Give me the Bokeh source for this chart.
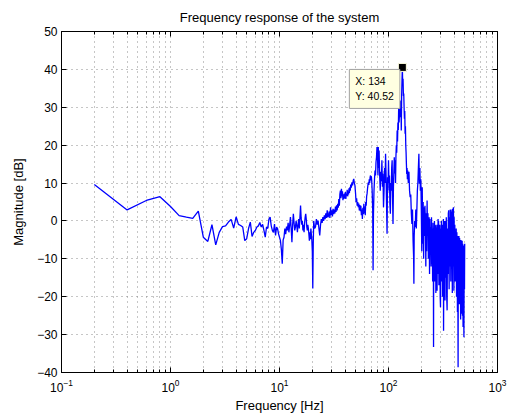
from bokeh.plotting import figure
from bokeh.models import LogAxis, LinearAxis, Label, FixedTicker
from bokeh.embed import file_html
from bokeh.resources import INLINE

FONT = "Liberation Sans"

# ---- data ----
f_low = [0.2, 0.4, 0.6, 0.8, 1.0, 1.2, 1.4, 1.6, 1.8, 2.0,
         2.2, 2.4, 2.6, 2.8, 3.0, 3.2, 3.4, 3.6, 3.8, 4.0,
         4.2, 4.4, 4.6, 4.8, 5.0, 5.2, 5.4, 5.6, 5.8, 6.0,
         6.2, 6.4, 6.6, 6.8, 7.0, 7.2, 7.4, 7.6, 7.8, 8.0,
         8.2, 8.4, 8.6, 8.8, 9.0, 9.2, 9.4, 9.6, 9.8, 10.0]
db_low = [9.6, 2.9, 5.4, 6.4, 3.8, 1.4, 1.0, 0.7, 2.6, -4.3,
          -5.4, -1.0, -6.3, -3.0, -1.5, -1.3, -0.3, 0.4, -1.9, 1.1,
          -0.9, -1.2, -1.6, -5.2, -4.7, -2.0, -0.3, -4.1, -3.0, -2.5,
          -1.6, -1.3, -0.4, -1.6, -0.9, -2.5, -4.3, -1.6, -2.0, 0.5,
          1.0, -1.3, -2.5, -3.0, -0.8, -3.8, -1.6, -2.0, -3.4, -4.3]

f_b = [10.2, 10.4, 10.6, 10.8, 11.0, 11.2, 11.4, 11.6, 11.8, 12.0,
       12.2, 12.4, 12.6, 12.8, 13.0, 13.2, 13.4, 13.6, 13.8, 14.0,
       14.2, 14.4, 14.6, 14.8, 15.0, 15.2, 15.4, 15.6, 15.8, 16.0,
       16.2, 16.4, 16.6, 16.8, 17.0, 17.2, 17.4, 17.6, 17.8, 18.0,
       18.2, 18.4, 18.6, 18.8, 19.0, 19.2, 19.4, 19.6, 19.8, 20.0,
       20.2, 20.4, 20.6]
db_b = [-5.2, -7.5, -11.3, -5.0, -4.3, -2.0, -3.5, -1.5, -2.5, -0.5,
        -3.0, -1.0, 1.0, -2.0, -5.6, -1.0, 1.9, -0.5, -2.5, -1.6,
        0.0, -1.2, -3.0, -1.0, 0.5, -2.0, 1.0, 4.1, 0.8, -1.0,
        0.0, -2.5, -1.0, -3.0, -0.5, 1.0, 1.9, 0.5, -1.6, -2.5,
        -1.0, -2.0, -3.5, -5.2, -3.0, -4.8, -2.0, -3.5, -5.0, -8.0,
        -17.8, -6.0, 0.0]

f_c = [21.0, 21.4, 21.8, 22.2, 22.6, 23.0, 23.4, 23.8, 24.2, 24.6,
       25.0, 25.4, 25.8, 26.2, 26.6, 27.0, 27.4, 27.8, 28.2, 28.6,
       29.0, 29.4, 29.8, 30.2, 30.6, 31.0, 31.4, 31.8, 32.2, 32.6,
       33.0, 33.4, 33.8, 34.2, 34.6, 35.0, 35.4, 35.8, 36.2, 36.6,
       37.0, 37.4, 37.8, 38.2, 38.6, 39.0, 39.4, 39.8, 40.2, 40.6,
       41.0, 41.4, 41.8, 42.2, 42.6, 43.0, 43.4, 43.8, 44.2, 44.6,
       45.0, 45.6, 46.2, 46.8, 47.4, 48.0, 48.6, 49.2, 49.8, 50.4,
       51.0, 51.6, 52.2, 52.8, 53.4, 54.0, 54.6, 55.2, 55.8, 56.4,
       57.0, 57.6, 58.2, 58.8, 59.4, 60.0, 60.6, 61.2, 61.8, 62.4,
       63.0, 63.6, 64.2, 64.8, 65.4, 66.0, 66.6, 67.2, 67.8, 68.4,
       69.0, 69.6, 70.2, 70.8, 71.6, 72.2, 72.8, 73.6, 74.4, 75.2,
       76.0, 76.8, 77.6, 78.4, 79.2, 80.0]
db_c = [-2.0, -1.6, 0.5, -1.0, 0.1, -2.0, -3.8, -1.0, 0.5, -0.5,
        1.0, 0.0, 1.5, 0.5, 2.0, 0.8, 2.8, 1.0, 1.4, 2.5,
        0.8, 3.6, 1.5, 2.8, 1.2, 3.2, 1.8, 3.0, 2.0, 3.8,
        2.4, 4.1, 2.8, 4.5, 3.5, 5.8, 4.0, 7.0, 8.0, 6.0,
        8.5, 6.5, 7.8, 5.5, 7.0, 5.8, 7.2, 6.0, 7.6, 5.8,
        7.0, 6.7, 8.2, 6.5, 7.8, 7.0, 8.6, 7.4, 8.9, 8.0,
        9.6, 8.8, 10.2, 9.4, 10.6, 11.1, 10.0, 9.4, 7.5, 5.0,
        6.0, 4.0, 5.0, 3.6, 4.6, 2.8, 4.2, 2.6, 4.0, 1.5,
        3.0, 0.5, 3.5, 1.8, 4.5, 2.0, 3.8, 1.5, 5.0, 4.0,
        6.5, 7.2, 8.5, 9.5, 10.2, 9.5, 11.0, 10.0, 11.5, 12.0,
        10.7, 11.8, 10.5, 8.0, 3.0, -13.0, 2.0, 8.0, 11.0, 13.3,
        12.0, 15.5, 16.8, 19.5, 18.0, 12.0]

f_d = [80.6, 81.4, 82.0, 83.0, 84.0, 85.0, 86.0, 87.0, 88.0, 89.0,
       90.0, 91.0, 92.0, 93.0, 94.0, 95.0, 96.0, 97.0, 98.0, 99.0,
       100.0, 101.0, 102.0, 103.0, 104.0, 105.0, 106.0, 107.0, 108.0, 109.0,
       110.0, 111.0, 112.0, 113.0, 114.0, 115.0, 116.0, 117.0, 118.0, 119.0,
       120.0, 121.0, 122.0, 123.0, 124.0, 125.0, 126.0, 127.0, 128.0, 129.0,
       130.0, 131.0, 132.0, 133.0, 134.0, 135.0, 136.0, 137.0, 138.0, 139.0,
       140.0, 141.0, 142.0, 143.0, 144.0, 145.0, 146.0, 147.0, 148.0, 149.0,
       150.0, 152.0, 154.0, 156.0, 158.0, 160.0, 162.0, 164.0, 166.0, 168.0,
       170.0, 171.0, 172.0, 174.0, 176.0, 178.0, 180.0, 182.0, 184.0, 186.0,
       188.0, 190.0, 192.0, 194.0, 196.0, 198.0, 200.0]
db_d = [19.5, 14.0, 18.6, 12.0, 8.0, 13.0, 10.5, 16.0, 9.0, 12.5,
        3.6, 8.0, 14.0, 10.0, 17.7, 12.0, 4.0, -3.4, 11.5, 8.0,
        16.0, 10.0, 12.0, 4.5, 1.9, 10.0, 8.0, 14.0, 16.0, 6.0,
        -0.8, 9.0, 13.0, 16.8, 12.5, 16.0, 10.0, 17.0, 20.0, 18.0,
        23.9, 21.0, 26.0, 24.0, 30.0, 26.0, 28.0, 27.4, 31.8, 29.0,
        31.5, 23.9, 33.0, 37.0, 40.52, 36.0, 37.5, 33.0, 33.6, 30.0,
        27.0, 29.0, 23.0, 25.0, 20.0, 18.0, 15.0, 12.4, 14.0, 11.0,
        13.3, 10.0, 13.0, 8.0, 6.3, 7.0, 2.0, -0.8, 3.0, -5.0,
        -9.6, -16.6, -4.0, 0.0, -1.6, 3.0, -2.0, 2.8, 8.0, 10.0,
        14.0, 17.7, 9.8, 14.0, 8.0, 11.0, 3.0]

f_e = [202, 204, 206, 208, 210, 212, 214, 216, 218, 220,
       222, 224, 226, 228, 230, 232, 234, 236, 238, 240,
       242, 244, 246, 248, 250, 252, 254, 256, 258, 259,
       260, 262, 264, 266, 268, 270, 272, 274, 276, 278,
       279, 281, 283, 285, 287, 288, 290, 292, 294, 296,
       298, 300, 302, 304, 306, 308, 310, 311, 313, 315,
       317, 319, 320, 322, 324, 326, 328, 330, 333, 336,
       339, 342, 345, 348, 351, 354, 357, 360, 363, 366,
       369, 370, 373, 376, 379, 382, 385, 388, 391, 394,
       396, 398, 400, 403, 406, 409, 412, 415, 418, 421,
       424, 427, 429, 431, 433, 435, 437, 440, 443, 446,
       449, 450, 453, 456, 459, 462, 465, 468, 471, 474,
       477, 480, 483, 486, 489, 492, 495, 498, 500]
db_e = [-8.0, 8.9, -6.0, 5.0, -10.0, 3.6, -4.0, 4.0, 0.0, -12.0,
        2.0, -8.0, 5.4, -3.0, 2.0, -10.0, -6.0, 1.0, -14.0, 0.5,
        -9.0, -1.6, -12.0, 1.0, -11.3, -2.0, -16.0, -0.5, -8.0, -33.3,
        -2.0, -12.0, 0.0, -16.0, -1.0, -1.6, -19.0, -2.0, -10.0, -1.0,
        -18.4, -4.0, -14.0, 0.5, -8.0, 0.0, -17.0, -3.0, -12.0, -1.0,
        -20.0, -22.8, -2.0, -14.0, 0.0, -16.0, -1.0, -1.6, -20.0, -3.0,
        -12.0, 0.5, -29.0, -6.0, -2.0, -18.0, 0.0, -21.0, 0.0, -15.0,
        1.0, -20.0, -23.6, -2.0, -14.0, 2.0, 2.8, -18.0, 1.0, -12.0,
        3.0, 1.9, -16.0, 2.5, -10.0, 3.0, -19.0, 3.2, -12.0, 3.6,
        -2.5, -18.4, 1.0, -14.0, -1.0, -16.0, -3.4, -10.0, -2.0, -20.0,
        -3.0, -12.2, -24.0, -4.0, -20.0, -38.6, -5.0, -18.0, -4.0, -22.0,
        -4.5, -6.0, -20.0, -5.0, -26.0, -5.0, -24.5, -6.0, -22.0, -5.2,
        -25.0, -6.0, -28.0, -6.5, -22.0, -30.7, -7.0, -18.0, -6.0]

peak_f = 134
peak_db = 40.52

x_ticks = [0.1, 1, 10, 100, 1000]
x_minor = [m * t for t in [0.1, 1, 10, 100] for m in range(2, 10)]
y_ticks = [-40, -30, -20, -10, 0, 10, 20, 30, 40, 50]

freq = f_low + f_b + f_c + f_d + f_e
mag = db_low + db_b + db_c + db_d + db_e

# ---- figure ----
p = figure(width=509, height=415, x_axis_type="log",
           x_range=(0.1, 1000), y_range=(-40, 50),
           output_backend="svg", toolbar_location=None,
           title="Frequency response of the system",
           min_border_left=61, min_border_right=12,
           min_border_top=31, min_border_bottom=43)
p.background_fill_color = "white"
p.border_fill_color = "white"
p.outline_line_color = "black"

p.title.text_font = FONT
p.title.text_font_size = "13px"
p.title.text_font_style = "normal"
p.title.text_color = "black"
p.title.align = "center"
p.title.standoff = 13

xt = FixedTicker(ticks=x_ticks, minor_ticks=x_minor)
yt = FixedTicker(ticks=y_ticks)
ov = {float(t): str(t).replace("-", "\u2212") for t in y_ticks}

p.xaxis.ticker = xt
p.xaxis.axis_label = "Frequency [Hz]"
p.yaxis.ticker = yt
p.yaxis.major_label_overrides = ov
p.yaxis.axis_label = "Magnitude [dB]"

for ax in [p.xaxis[0], p.yaxis[0]]:
    ax.axis_line_color = "black"
    ax.major_tick_line_color = "black"
    ax.minor_tick_line_color = "black"
    ax.major_tick_in = 5
    ax.major_tick_out = 0
    ax.minor_tick_in = 3
    ax.minor_tick_out = 0
    ax.major_label_text_font = FONT
    ax.major_label_text_font_size = "12px"
    ax.major_label_text_color = "black"
    ax.axis_label_text_font = FONT
    ax.axis_label_text_font_size = "13px"
    ax.axis_label_text_font_style = "normal"
    ax.axis_label_text_color = "black"
p.yaxis.minor_tick_line_color = None
p.xaxis.major_label_standoff = 6
p.yaxis.major_label_standoff = 4
p.xaxis.axis_label_standoff = 3
p.yaxis.axis_label_standoff = 8

top = LogAxis(ticker=xt, major_label_text_font_size="1px", major_label_text_color=None,
              major_label_standoff=0,
              major_tick_in=5, major_tick_out=0, minor_tick_in=3, minor_tick_out=0,
              axis_line_color="black")
right = LinearAxis(ticker=yt, major_label_text_font_size="1px", major_label_text_color=None,
                   major_label_standoff=0,
                   major_tick_in=5, major_tick_out=0, minor_tick_line_color=None,
                   axis_line_color="black")
p.add_layout(top, "above")
p.add_layout(right, "right")

grid_col = "#8c8c8c"
p.xgrid.ticker = xt
p.xgrid.grid_line_color = grid_col
p.xgrid.grid_line_dash = "1 4"
p.xgrid.minor_grid_line_color = grid_col
p.xgrid.minor_grid_line_dash = "1 4"
p.ygrid.ticker = yt
p.ygrid.grid_line_color = grid_col
p.ygrid.grid_line_dash = "1 4"

p.line(freq, mag, line_color="#0000FF", line_width=1.3)

tip = Label(x=peak_f, y=peak_db, x_units="data", y_units="data",
            text=f"X: {peak_f:g}\nY: {peak_db:.2f}",
            x_offset=-53, y_offset=-2, text_align="left", text_baseline="top",
            text_font=FONT, text_font_size="10.5px", text_color="black",
            text_line_height=1.25,
            background_fill_color="#FFFFE1", border_line_color="#A0A0A0",
            padding=6)
p.add_layout(tip)
p.scatter([peak_f], [peak_db], marker="square", size=8,
          fill_color="black", line_color="#FFFFE1", line_width=1)

open("out.html", "w").write(file_html(p, INLINE))
